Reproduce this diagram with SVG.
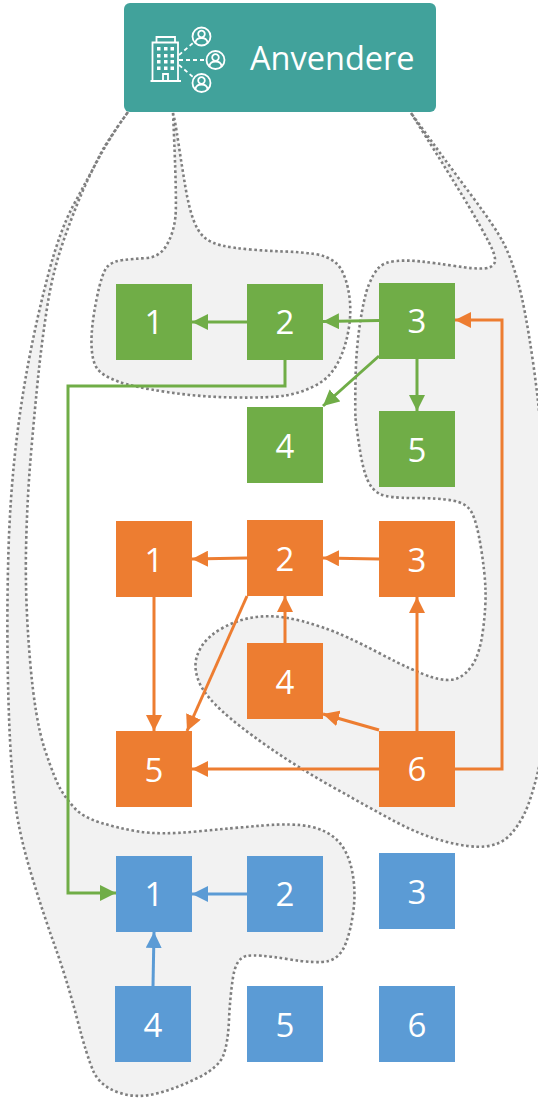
<svg xmlns="http://www.w3.org/2000/svg" width="538" height="1103" viewBox="0 0 538 1103">
<style>
.blob{fill:#F2F2F2;stroke:#7F7F7F;stroke-width:2.6;stroke-dasharray:2.6 2.6}
.g{fill:#70AD47}.o{fill:#ED7D31}.b{fill:#5B9BD5}
.n{font:33px "Open Sans","Noto Sans",sans-serif;fill:#fff;text-anchor:middle}
.c{fill:none;stroke-width:3}
.cg{stroke:#70AD47}.co{stroke:#ED7D31}.cb{stroke:#5B9BD5}
.ic{fill:none;stroke:#fff;stroke-width:1.8}
.w{fill:#fff}
</style>
<defs>
<marker id="ag" markerUnits="userSpaceOnUse" viewBox="0 0 16 16" markerWidth="16" markerHeight="16" refX="16" refY="8" orient="auto"><path d="M0 0L16 8L0 16z" fill="#70AD47"/></marker>
<marker id="ao" markerUnits="userSpaceOnUse" viewBox="0 0 16 16" markerWidth="16" markerHeight="16" refX="16" refY="8" orient="auto"><path d="M0 0L16 8L0 16z" fill="#ED7D31"/></marker>
<marker id="ab" markerUnits="userSpaceOnUse" viewBox="0 0 16 16" markerWidth="16" markerHeight="16" refX="16" refY="8" orient="auto"><path d="M0 0L16 8L0 16z" fill="#5B9BD5"/></marker>
<g id="user"><circle r="9" class="ic"/><circle cy="-2.5" r="3.3" class="ic"/><path class="ic" d="M-6 6.500C-6 2.500-3 1.500 0 1.500S6 2.500 6 6.500"/></g>
</defs>
<g id="regions">
<path id="region-a" class="blob" d="M173 113Q177 200 175.500 216Q174 232 167 244.500Q160 257 146.500 258Q133 259 123 260Q113 261 107.500 266.500Q102 272 96.500 299.500Q91 327 91.500 344.500Q92 362 97.500 369Q103 376 118 381.500Q133 387 166.500 392Q200 397 235 397.500Q270 398 285.500 395.500Q301 393 315.500 385.500Q330 378 338 362.500Q346 347 349 327Q352 307 348 288.500Q344 270 336 263Q328 256 314.500 254Q301 252 284.500 251.500Q268 251 250.500 249.500Q233 248 222 245.500Q211 243 204.500 237.500Q198 232 193.500 220Q189 208 185.500 187.500Q182 167 178.500 143.500Q175 120 173 113z"/>
<path id="region-b" class="blob" d="M411 113Q455 183 468 205Q481 227 489 242.500Q497 258 494.500 263Q492 268 483.500 268.500Q475 269 455 266Q435 263 421.500 261.500Q408 260 396 261Q384 262 378.500 268Q373 274 368.500 285.500Q364 297 360 323.500Q356 350 355.500 380Q355 410 355.500 417.500Q356 425 359.500 447.500Q363 470 367.500 480Q372 490 380 494Q388 498 413 498Q438 498 452.500 500.500Q467 503 472 513Q477 523 481 548Q485 573 485.500 590Q486 607 483 630Q480 653 473 664Q466 675 457 678.500Q448 682 431.500 677Q415 672 380 653.500Q345 635 323 627.500Q301 620 284.500 617.500Q268 615 252.500 617.500Q237 620 222.500 628Q208 636 201.500 646.500Q195 657 195.500 667Q196 677 201.500 687Q207 697 222 711Q237 725 267 746Q297 767 333.500 787.500Q370 808 395 821.500Q420 835 445 841.500Q470 848 485 846.500Q500 845 509 836Q518 827 524.500 813.500Q531 800 538 771.500Q545 743 545 621.500Q545 500 542.500 455Q540 410 532.500 358.500Q525 307 518 282Q511 257 503 242Q495 227 473 197.500Q451 168 431 140.500z"/>
<path id="region-c" class="blob" d="M128 112Q110 137 98.500 158.500Q87 180 73.500 205Q60 230 48.500 273.500Q37 317 28.500 362Q20 407 15 453.500Q10 500 8.500 550Q7 600 7.500 650Q8 700 10 740Q12 780 16 808.500Q20 837 31.500 875Q43 913 55 946.500Q67 980 77 1018.500Q87 1057 93.500 1071.500Q100 1086 118.500 1092.500Q137 1099 158.500 1093Q180 1087 199.500 1077Q219 1067 223.500 1055Q228 1043 229 1020Q230 997 233 977.500Q236 958 246.500 956Q257 954 287 959Q317 964 328.500 961Q340 958 345.500 944Q351 930 353.500 910Q356 890 352 870.500Q348 851 337.500 840.500Q327 830 310 826.500Q293 823 263 825.500Q233 828 196.500 831.500Q160 835 138.500 831.500Q117 828 100 822.500Q83 817 75 808.500Q67 800 61 790Q55 780 45 750Q35 720 30 660Q25 600 26 550Q27 500 31 453.500Q35 407 38.500 373.500Q42 340 47.500 305Q53 270 65 236.500Q77 203 87 181.500Q97 160 103.500 148.500Q110 137 128 112z"/>
</g>
<g id="connectors">
<path class="c cg" marker-end="url(#ag)" d="M247 322H192"/>
<path class="c cg" marker-end="url(#ag)" d="M379 320.500L323 321.500"/>
<path class="c cg" marker-end="url(#ag)" d="M379 356L323 406"/>
<path class="c cg" marker-end="url(#ag)" d="M417 359V411"/>
<path class="c cg" marker-end="url(#ag)" d="M285 360V386H68V893H116"/>
<path class="c co" marker-end="url(#ao)" d="M455 769H502V320H455"/>
<path class="c co" marker-end="url(#ao)" d="M247 558L192 559"/>
<path class="c co" marker-end="url(#ao)" d="M379 559L323 558"/>
<path class="c co" marker-end="url(#ao)" d="M154 597V731"/>
<path class="c co" marker-end="url(#ao)" d="M247 596L187 731"/>
<path class="c co" marker-end="url(#ao)" d="M285 643V596"/>
<path class="c co" marker-end="url(#ao)" d="M417 731V597"/>
<path class="c co" marker-end="url(#ao)" d="M379 730L323 714"/>
<path class="c co" marker-end="url(#ao)" d="M379 769H192"/>
<path class="c cb" marker-end="url(#ab)" d="M247 894H192"/>
<path class="c cb" marker-end="url(#ab)" d="M153 986L154 932"/>
</g>
<g id="anvendere">
<rect x="124" y="3" width="312" height="109" rx="6" fill="#41A29B"/>
<path class="ic" d="M150.500 81H181M152.500 81V42.500H178V81M156.500 42.500V37H175V42.500M163 81V74H168V81"/>
<path class="w" d="M157 47h3.500v3.500H157zM164 47h3.500v3.500H164zM170.500 47h3.500v3.500h-3.500zM157 54h3.500v3.500H157zM164 54h3.500v3.500H164zM170.500 54h3.500v3.500h-3.500zM157 60h3.500v3.500H157zM164 60h3.500v3.500H164zM170.500 60h3.500v3.500h-3.500zM157 66.500h3.500v3.500H157zM164 66.500h3.500v3.500H164zM170.500 66.500h3.500v3.500h-3.500z"/>
<path class="ic" stroke-dasharray="4 3" d="M179 55L193 43M179 60H205M179 65L193 77"/>
<use href="#user" x="201.500" y="36.500"/>
<use href="#user" x="215.500" y="60"/>
<use href="#user" x="201.500" y="83"/>
<text x="250" y="70" font-family="'Open Sans','Noto Sans',sans-serif" font-size="32.500" fill="#fff">Anvendere</text>
</g>
<g id="green-1"><rect class="g" x="116" y="284" width="76" height="76"/><text class="n" x="154" y="334">1</text></g>
<g id="green-2"><rect class="g" x="247" y="284" width="76" height="76"/><text class="n" x="285" y="334">2</text></g>
<g id="green-3"><rect class="g" x="379" y="283" width="76" height="76"/><text class="n" x="417" y="333">3</text></g>
<g id="green-4"><rect class="g" x="247" y="407" width="76" height="76"/><text class="n" x="285" y="458">4</text></g>
<g id="green-5"><rect class="g" x="379" y="411" width="76" height="76"/><text class="n" x="417" y="462">5</text></g>
<g id="orange-1"><rect class="o" x="116" y="521" width="76" height="76"/><text class="n" x="154" y="572">1</text></g>
<g id="orange-2"><rect class="o" x="247" y="520" width="76" height="76"/><text class="n" x="285" y="571">2</text></g>
<g id="orange-3"><rect class="o" x="379" y="521" width="76" height="76"/><text class="n" x="417" y="572">3</text></g>
<g id="orange-4"><rect class="o" x="247" y="643" width="76" height="76"/><text class="n" x="285" y="694">4</text></g>
<g id="orange-5"><rect class="o" x="116" y="731" width="76" height="76"/><text class="n" x="154" y="782">5</text></g>
<g id="orange-6"><rect class="o" x="379" y="731" width="76" height="76"/><text class="n" x="417" y="781">6</text></g>
<g id="blue-1"><rect class="b" x="116" y="856" width="76" height="76"/><text class="n" x="154" y="906">1</text></g>
<g id="blue-2"><rect class="b" x="247" y="856" width="76" height="76"/><text class="n" x="285" y="906">2</text></g>
<g id="blue-3"><rect class="b" x="379" y="853" width="76" height="76"/><text class="n" x="417" y="904">3</text></g>
<g id="blue-4"><rect class="b" x="115" y="986" width="76" height="76"/><text class="n" x="153" y="1037">4</text></g>
<g id="blue-5"><rect class="b" x="247" y="986" width="76" height="76"/><text class="n" x="285" y="1037">5</text></g>
<g id="blue-6"><rect class="b" x="379" y="986" width="76" height="76"/><text class="n" x="417" y="1037">6</text></g>
</svg>
